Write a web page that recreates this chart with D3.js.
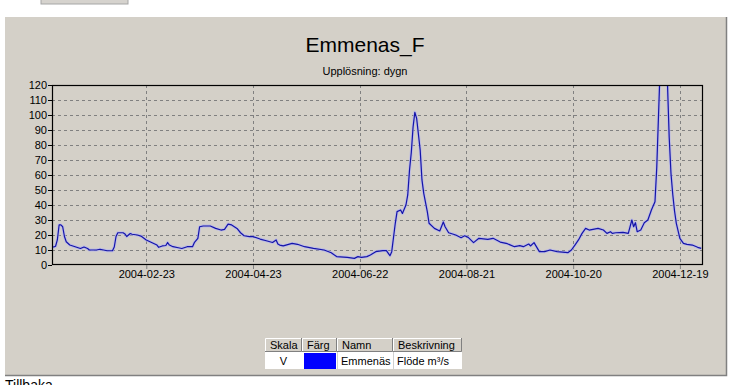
<!DOCTYPE html>
<html>
<head>
<meta charset="utf-8">
<script src="https://cdn.jsdelivr.net/npm/d3@7"></script>
<style>
  html, body { margin: 0; padding: 0; background: #ffffff; }
  svg { display: block; }
  text { font-family: "Liberation Sans", Arial, sans-serif; }
</style>
</head>
<body>
<svg id="chart" width="741" height="385"></svg>
<script>
// ---------- DATA ----------
const title = "Emmenas_F";
const subtitle = "Upplösning: dygn";
const startDate = "2004-01-01";
const endDate = "2005-01-01";
// day offset from 2004-01-01
const dayIndex = [0,1,2,3,4,5,6,7,8,10,13,16,18,20,21,25,27,31,34,35,36,37,40,41,42,44,45,48,50,53,56,59,60,62,64,65,66,68,71,73,76,79,80,82,83,85,89,92,95,97,99,101,104,106,108,111,113,117,121,124,126,127,128,130,135,138,142,147,153,157,160,166,170,172,174,177,179,182,186,188,190,191,193,194,196,197,199,200,201,202,203,204,205,207,208,209,211,212,215,218,220,221,223,227,230,232,234,237,240,245,248,252,256,260,263,265,268,269,271,272,274,277,280,284,290,292,294,296,298,300,302,307,310,312,314,315,317,321,324,326,327,328,329,331,333,335,337,339,340,341,342,344,345,346,347,348,349,350,351,353,355,357,360,363,365];
const flow = [12.2,12.0,12.5,16.7,26.7,26.7,25.5,19,15.5,13.3,12.2,11,12,11,10,10,10.5,9.5,9.5,12,19,21.5,21.5,20.7,19,21,20.5,20,19.3,16.7,15,13.3,11.8,12.7,13,15,13.3,12.2,11.5,11,12.2,12.2,14.9,17.8,25.5,26,26,24.4,23.3,23.8,27.3,26.7,24.4,21.5,19.5,18.9,18.9,17.3,16,15,16.7,14,13.3,12.7,14.4,13.8,12.2,11.1,10,8.2,5.6,5.1,4.4,5.6,5.1,5.6,6.7,8.9,9.6,9.6,6.2,8.9,27.8,35.6,36.7,34.4,40,46.7,63.3,75,92,101.8,97.8,76.7,56.7,47.8,35.6,27.8,24.4,22.7,28.7,25.5,21.5,20,18.2,19.5,18.4,14.9,17.8,17.1,17.8,15.3,14.2,12.2,12.9,12.2,14,12.7,14.9,12.9,8.9,8.9,10,8.9,8.2,10,13.3,16.7,21.1,24.4,23.3,24.4,23.3,21.1,22.2,21.1,21.5,21.8,21.1,30,25.5,28.2,22.2,23.3,28.2,30,36.7,42.2,65,100,135,150,140,122,85,61,47,36,27.8,17.8,14.4,13.8,13.3,11.8,11.1];
const yTicks = [0,10,20,30,40,50,60,70,80,90,100,110,120];
const xTickDates = ["2004-02-23","2004-04-23","2004-06-22","2004-08-21","2004-10-20","2004-12-19"];
const legendHeaders = ["Skala","Färg","Namn","Beskrivning"];
const legendRow = ["V","","Emmenäs","Flöde m³/s"];
const seriesColor = "#0000ff";

// ---------- LAYOUT ----------
const svg = d3.select("#chart");
const panel = {x: 5, y: 17, w: 721, h: 358};
const plot = {l: 52, r: 703, t: 85, b: 265};
const panelBg = "#d4d0c8";

const parse = d3.utcParse("%Y-%m-%d");
const t0 = parse(startDate);
const data = dayIndex.map((d, i) => ({date: d3.utcDay.offset(t0, d), v: flow[i]}));

const x = d3.scaleUtc().domain([t0, parse(endDate)]).range([plot.l, plot.r]);
const y = d3.scaleLinear().domain([0, 120]).range([plot.b, plot.t]);

// top-left button remnant
svg.append("rect").attr("x", 41).attr("y", -10).attr("width", 87).attr("height", 14)
  .attr("fill", "#d6d3ce").attr("stroke", "#a6a6a6");

// panel
svg.append("rect").attr("x", panel.x).attr("y", panel.y).attr("width", panel.w).attr("height", panel.h)
  .attr("fill", panelBg);
svg.append("path")
  .attr("d", `M${panel.x + panel.w + 0.5},${panel.y} V${panel.y + panel.h + 0.5} H${panel.x}`)
  .attr("fill", "none").attr("stroke", "#808080").attr("stroke-width", 1.5);

// title
svg.append("text").attr("x", 365).attr("y", 52).attr("text-anchor", "middle")
  .attr("font-size", 21).attr("fill", "#000").text(title);
svg.append("text").attr("x", 365).attr("y", 75).attr("text-anchor", "middle")
  .attr("font-size", 11).attr("fill", "#000").text(subtitle);

// grid
const grid = svg.append("g");
grid.selectAll("line.h").data(yTicks.filter(d => d > 0 && d < 120)).join("line")
  .attr("x1", plot.l).attr("x2", plot.r)
  .attr("y1", d => Math.round(y(d)) + 0.5).attr("y2", d => Math.round(y(d)) + 0.5)
  .attr("stroke", "#808080").attr("stroke-dasharray", "3,3");
grid.selectAll("line.v").data(xTickDates).join("line")
  .attr("x1", d => Math.round(x(parse(d))) + 0.5).attr("x2", d => Math.round(x(parse(d))) + 0.5)
  .attr("y1", plot.t).attr("y2", plot.b)
  .attr("stroke", "#808080").attr("stroke-dasharray", "3,3");

// clip
svg.append("clipPath").attr("id", "clip").append("rect")
  .attr("x", plot.l).attr("y", plot.t).attr("width", plot.r - plot.l).attr("height", plot.b - plot.t);

const line = d3.line().x(d => x(d.date)).y(d => y(d.v));
const lg = svg.append("g").attr("clip-path", "url(#clip)");
lg.append("path").datum(data).attr("d", line).attr("fill", "none")
  .attr("stroke", "#b4b4f0").attr("stroke-width", 3).attr("stroke-opacity", 0.7)
  .attr("stroke-linejoin", "round");
lg.append("path").datum(data).attr("d", line).attr("fill", "none")
  .attr("stroke", "#1414a8").attr("stroke-width", 1.2).attr("stroke-linejoin", "round");

// frame
svg.append("rect").attr("x", plot.l + 0.5).attr("y", plot.t + 0.5)
  .attr("width", plot.r - plot.l - 1).attr("height", plot.b - plot.t - 1)
  .attr("fill", "none").attr("stroke", "#000").attr("stroke-width", 1.2);

// axes
const yAxis = d3.axisLeft(y).tickValues(yTicks).tickSize(4).tickPadding(1);
const gy = svg.append("g").attr("transform", `translate(${plot.l},0)`).call(yAxis);
gy.select(".domain").remove();
gy.selectAll("text").attr("font-size", 11).attr("font-family", "Liberation Sans, Arial, sans-serif").attr("fill", "#000");

const fmt = d3.utcFormat("%Y-%m-%d");
const xAxis = d3.axisBottom(x).tickValues(xTickDates.map(parse)).tickFormat(fmt).tickSize(4).tickPadding(1);
const gx = svg.append("g").attr("transform", `translate(0,${plot.b})`).call(xAxis);
gx.select(".domain").remove();
gx.selectAll("line").attr("stroke", "#808080");
gx.selectAll("text").attr("font-size", 11).attr("font-family", "Liberation Sans, Arial, sans-serif").attr("fill", "#000");

// legend table
const cols = [265, 302, 337, 393, 462];
const hdrY = 338, rowY = 352, rowB = 369;
const leg = svg.append("g");
legendHeaders.forEach((h, i) => {
  const x0 = cols[i], x1 = cols[i + 1];
  leg.append("rect").attr("x", x0).attr("y", hdrY).attr("width", x1 - x0).attr("height", rowY - hdrY).attr("fill", panelBg);
  leg.append("path").attr("d", `M${x0 + 0.5},${rowY} V${hdrY + 0.5} H${x1}`).attr("stroke", "#ffffff").attr("fill", "none");
  leg.append("path").attr("d", `M${x1 - 0.5},${hdrY} V${rowY - 0.5} H${x0}`).attr("stroke", "#808080").attr("fill", "none");
  leg.append("text").attr("x", x0 + 5).attr("y", 349).attr("font-size", 11).attr("fill", "#000").text(h);
  leg.append("rect").attr("x", x0).attr("y", rowY).attr("width", x1 - x0).attr("height", rowB - rowY).attr("fill", "#ffffff");
});
leg.append("rect").attr("x", cols[1] + 2).attr("y", rowY + 1).attr("width", cols[2] - cols[1] - 3).attr("height", rowB - rowY - 1).attr("fill", seriesColor);
leg.append("text").attr("x", (cols[0] + cols[1]) / 2).attr("y", 365).attr("text-anchor", "middle").attr("font-size", 11).text(legendRow[0]);
leg.append("text").attr("x", cols[2] + 4).attr("y", 365).attr("font-size", 11).text(legendRow[2]);
leg.append("text").attr("x", cols[3] + 4).attr("y", 365).attr("font-size", 11).text(legendRow[3]);
[cols[2], cols[3]].forEach(cx => {
  leg.append("line").attr("x1", cx + 0.5).attr("x2", cx + 0.5).attr("y1", rowY).attr("y2", rowB).attr("stroke", "#d0d0d0");
});

// bottom link text (cut off)
svg.append("text").attr("x", 5).attr("y", 390).attr("font-size", 14).attr("fill", "#000").text("Tillbaka");
</script>
</body>
</html>
